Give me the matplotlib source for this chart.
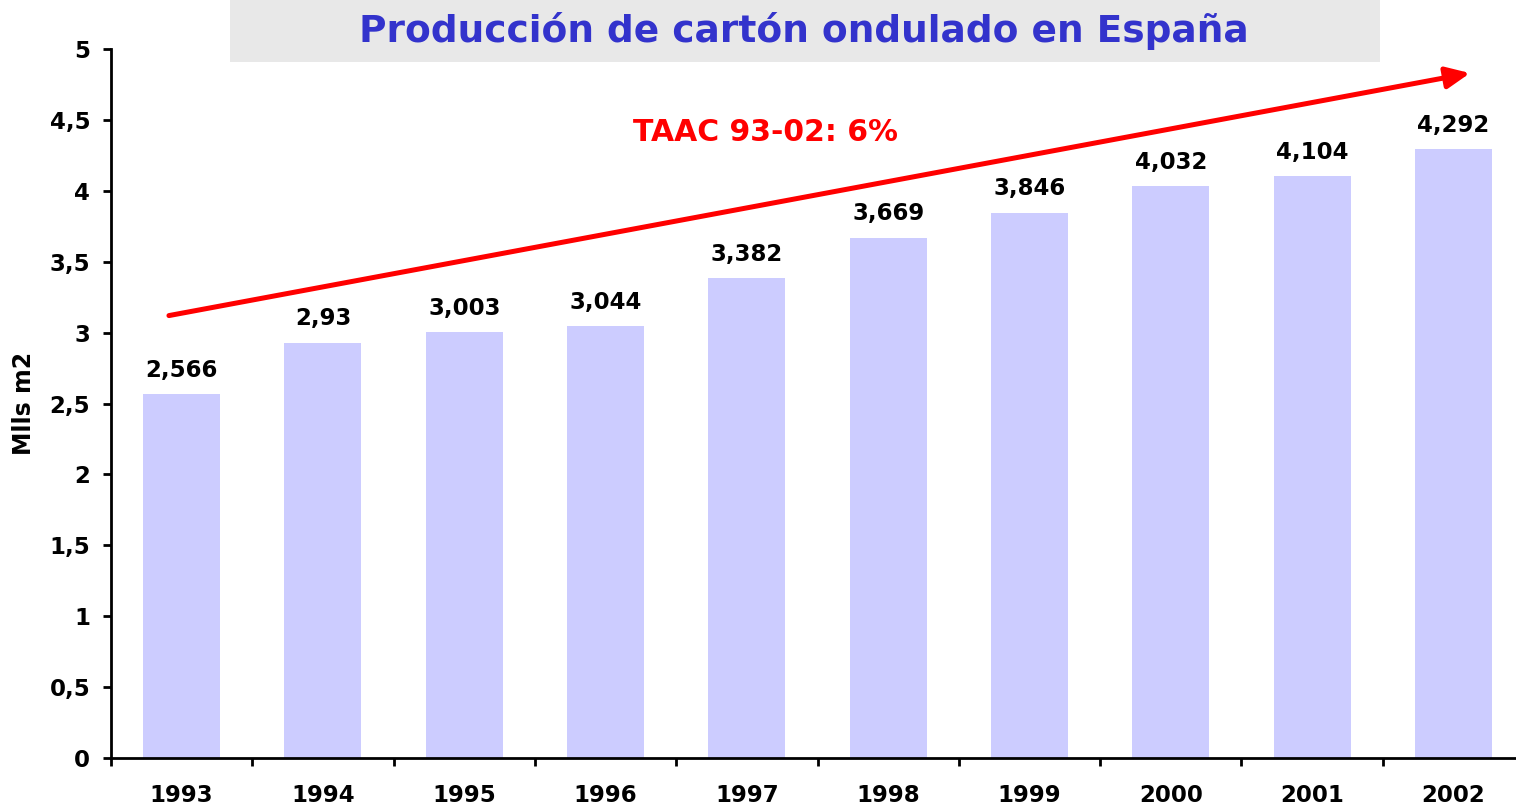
import matplotlib
matplotlib.use("Agg")
import matplotlib.pyplot as plt
from matplotlib.patches import Rectangle, FancyArrowPatch
import numpy as np

years = ["1993", "1994", "1995", "1996", "1997", "1998", "1999", "2000", "2001", "2002"]
values = [2.566, 2.93, 3.003, 3.044, 3.382, 3.669, 3.846, 4.032, 4.104, 4.292]
value_labels = ["2,566", "2,93", "3,003", "3,044", "3,382", "3,669", "3,846", "4,032", "4,104", "4,292"]
yticks = [0, 0.5, 1, 1.5, 2, 2.5, 3, 3.5, 4, 4.5, 5]
ytick_labels = ["0", "0,5", "1", "1,5", "2", "2,5", "3", "3,5", "4", "4,5", "5"]
title = "Producción de cartón ondulado en España"
ylabel = "Mlls m2"
trend_text = "TAAC 93-02: 6%"

plt.rcParams['font.family'] = ['DejaVu Sans']
plt.rcParams['font.weight'] = 'bold'

W, H = 1516, 810
fig = plt.figure(figsize=(W/100, H/100), dpi=100)
left, right, bottom, top = 111, 1524, 758, 49
ax = fig.add_axes([left/W, 1-bottom/H, (right-left)/W, (bottom-top)/H])

x = np.arange(len(years))
ax.bar(x, values, width=0.545, color="#CCCCFF", zorder=2)
ax.set_xlim(-0.5, len(years)-0.5)
ax.set_ylim(0, 5)

for spine in ["top", "right"]:
    ax.spines[spine].set_visible(False)
for spine in ["left", "bottom"]:
    ax.spines[spine].set_linewidth(2)
    ax.spines[spine].set_color("black")

ax.set_yticks(yticks)
ax.set_yticklabels(ytick_labels, fontsize=16.5, fontweight='bold')
ax.tick_params(axis='y', length=6, width=2, pad=9, direction='out')

ax.set_xticks(np.arange(len(years)+1)-0.5)
ax.set_xticklabels([""]*(len(years)+1))
ax.tick_params(axis='x', which='major', length=6, width=2, direction='out')
ax.set_xticks(x, minor=True)
ax.set_xticklabels(years, minor=True, fontsize=16.5, fontweight='bold')
ax.tick_params(axis='x', which='minor', length=0, pad=19)

ax.set_ylabel(ylabel, fontsize=17, fontweight='bold')
ax.yaxis.set_label_coords(-75/(right-left), 0.5)

for xi, v, lab in zip(x, values, value_labels):
    ax.annotate(lab, (xi, v), xytext=(0, 9), textcoords='offset points',
                ha='center', va='bottom', fontsize=16.5, fontweight='bold', color='black')

arrow = FancyArrowPatch((-0.09, 3.12), (9.118, 4.83), arrowstyle='-|>,head_length=1.1,head_width=0.5',
                        mutation_scale=13, color='#FF0000', linewidth=3.6, zorder=5, clip_on=False,
                        shrinkA=0, shrinkB=0)
ax.add_patch(arrow)

ax.text(4.135, 4.41, trend_text,
        ha='center', va='center', fontsize=21.5, fontweight='bold', color='#FF0000', zorder=6)

fig.patches.append(Rectangle((230/W, 1-62/H), (1380-230)/W, 62/H, transform=fig.transFigure,
                             facecolor="#E8E8E8", edgecolor='none', zorder=0))
fig.text(804/W, 1-31/H, title, ha='center', va='center', fontsize=27, fontweight='bold', color="#3333CC")

fig.savefig("out.png", dpi=100)
